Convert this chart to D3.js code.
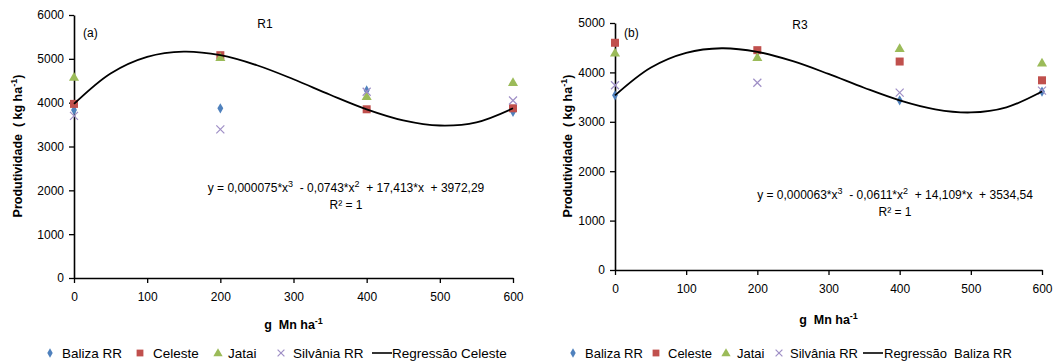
<!DOCTYPE html>
<html><head><meta charset="utf-8">
<script src="https://cdn.jsdelivr.net/npm/d3@7"></script>
<style>
body{margin:0;background:#fff;}
text{font-family:"Liberation Sans",Arial,sans-serif;fill:#000;white-space:pre;}
</style></head><body>
<svg id="c" width="1061" height="362"></svg>
<script>
const doses = [0, 200, 400, 600];
const seriesNames = ["Baliza RR", "Celeste", "Jatai", "Silvânia RR"];
// R1 (a)
const r1Baliza = [3830, 3870, 4280, 3790];
const r1Celeste = [3972, 5083, 3849, 3872];
const r1Jatai = [4580, 5030, 4140, 4460];
const r1Silvania = [3700, 3390, 4250, 4050];
// R3 (b)
const r3Baliza = [3535, 4416, 3434, 3612];
const r3Celeste = [4600, 4450, 4220, 3840];
const r3Jatai = [4390, 4300, 4480, 4190];
const r3Silvania = [3740, 3790, 3590, 3630];
// regression curves read along x = 0..600 step 50
const curveX = [0, 50, 100, 150, 200, 250, 300, 350, 400, 450, 500, 550, 600];
const r1Curve = [3972, 4667, 5046, 5166, 5083, 4854, 4534, 4181, 3849, 3597, 3479, 3552, 3872];
const r3Curve = [3535, 4095, 4397, 4489, 4416, 4227, 3969, 3689, 3434, 3252, 3189, 3293, 3612];
const xTicks = [0, 100, 200, 300, 400, 500, 600];
const r1YTicks = [0, 1000, 2000, 3000, 4000, 5000, 6000];
const r3YTicks = [0, 1000, 2000, 3000, 4000, 5000];

const colors = ["#4f81bd", "#c0504d", "#9bbb59", "#9f8fc6"];
const svg = d3.select("#c");

function marker(g, type, x, y, color, scale) {
  const s = scale || 1;
  if (type === 0) {
    g.append("path").attr("d", d3.symbol(d3.symbolDiamond, 30 * s)()).attr("transform", `translate(${x},${y})`).attr("fill", color);
  } else if (type === 1) {
    const h = 4 * s;
    g.append("rect").attr("x", x - h).attr("y", y - h).attr("width", 2 * h).attr("height", 2 * h).attr("fill", color);
  } else if (type === 2) {
    g.append("path").attr("d", d3.symbol(d3.symbolTriangle, 44 * s)()).attr("transform", `translate(${x},${y + 0.5})`).attr("fill", color);
  } else {
    const h = 4 * s;
    g.append("path").attr("d", `M${x - h},${y - h}L${x + h},${y + h}M${x - h},${y + h}L${x + h},${y - h}`).attr("stroke", color).attr("stroke-width", 1.2).attr("fill", "none");
  }
}

function panel(cfg) {
  const g = svg.append("g");
  const x = d3.scaleLinear().domain([0, 600]).range([cfg.x0, cfg.x1]);
  const y = d3.scaleLinear().domain([0, cfg.ymax]).range([cfg.y0, cfg.y1]);
  const ya = g.append("g").attr("transform", `translate(${cfg.x0},0)`)
    .call(d3.axisLeft(y).tickValues(cfg.yTicks).tickSize(5).tickSizeOuter(0).tickPadding(5).tickFormat(d3.format("d")));
  const xa = g.append("g").attr("transform", `translate(0,${cfg.y0})`)
    .call(d3.axisBottom(x).tickValues(xTicks).tickSize(5).tickSizeOuter(0).tickPadding(9).tickFormat(d3.format("d")));
  [ya, xa].forEach(a => {
    a.select(".domain").attr("stroke", "#000").attr("stroke-width", 1.6);
    a.selectAll(".tick line").attr("stroke", "#000").attr("stroke-width", 1.3);
    a.selectAll(".tick text").style("font-family", '"Liberation Sans",Arial,sans-serif').style("font-size", "12px").attr("fill", "#000");
  });
  cfg.series.forEach((vals, si) => {
    vals.forEach((v, i) => marker(g, si, x(doses[i]), y(v), colors[si]));
  });
  const line = d3.line().x((d, i) => x(curveX[i])).y(d => y(d)).curve(d3.curveCatmullRom);
  g.append("path").attr("d", line(cfg.curve)).attr("fill", "none").attr("stroke", "#000").attr("stroke-width", 1.8);
  g.append("text").attr("x", cfg.titleX).attr("y", cfg.titleY).attr("text-anchor", "middle").style("font-size", "12px").text(cfg.title);
  g.append("text").attr("x", cfg.x0 + 9).attr("y", cfg.letterY).style("font-size", "12px").text(cfg.letter);
  const eq = g.append("text").attr("x", cfg.eqX).attr("y", cfg.eqY).attr("text-anchor", "middle").style("font-size", "12px");
  const parts = cfg.eq;
  eq.append("tspan").text(parts[0]);
  eq.append("tspan").attr("dy", -5).style("font-size", "9px").text("3");
  eq.append("tspan").attr("dy", 5).text(parts[1]);
  eq.append("tspan").attr("dy", -5).style("font-size", "9px").text("2");
  eq.append("tspan").attr("dy", 5).text(parts[2]);
  g.append("text").attr("x", cfg.eqX).attr("y", cfg.eqY + 17).attr("text-anchor", "middle").style("font-size", "12px").text("R² = 1");
  const yt = g.append("text").attr("transform", `translate(${cfg.ylabX},${cfg.ylabY}) rotate(-90)`).attr("text-anchor", "middle")
    .style("font-size", "12.5px").style("font-weight", "bold");
  yt.append("tspan").text("Produtividade  ( kg ha");
  yt.append("tspan").attr("dy", -5).style("font-size", "9px").text("-1");
  yt.append("tspan").attr("dy", 5).text(")");
  const xt = g.append("text").attr("x", (cfg.x0 + cfg.x1) / 2).attr("y", cfg.xlabY).attr("text-anchor", "middle")
    .style("font-size", "12.5px").style("font-weight", "bold");
  xt.append("tspan").text("g  Mn ha");
  xt.append("tspan").attr("dy", -5).style("font-size", "9px").text("-1");
  const lg = g.append("g");
  const ly = 353;
  cfg.legend.forEach((it, i) => {
    if (i < 4) {
      marker(lg, i, it[0], ly, colors[i], 0.85);
      lg.append("text").attr("x", it[1]).attr("y", ly + 4.5).style("font-size", cfg.legSize).text(seriesNames[i]);
    } else {
      lg.append("line").attr("x1", it[0]).attr("x2", it[0] + 20).attr("y1", ly).attr("y2", ly).attr("stroke", "#000").attr("stroke-width", 1.6);
      lg.append("text").attr("x", it[1]).attr("y", ly + 4.5).style("font-size", cfg.legSize).text(it[2]);
    }
  });
}

panel({
  x0: 74, x1: 513, y0: 278, y1: 15, ymax: 6000, yTicks: r1YTicks,
  series: [r1Baliza, r1Celeste, r1Jatai, r1Silvania], curve: r1Curve,
  title: "R1", titleX: 265, titleY: 28, letter: "(a)", letterY: 37,
  eq: ["y = 0,000075*x", "  - 0,0743*x", "  + 17,413*x  + 3972,29"], eqX: 346, eqY: 192,
  ylabX: 22, ylabY: 146, xlabY: 329, legSize: "13.5px",
  legend: [[50, 62], [140, 153], [218, 228], [281, 293], [372, 392, "Regressão Celeste"]]
});
panel({
  x0: 615, x1: 1042, y0: 270, y1: 23, ymax: 5000, yTicks: r3YTicks,
  series: [r3Baliza, r3Celeste, r3Jatai, r3Silvania], curve: r3Curve,
  title: "R3", titleX: 800, titleY: 29, letter: "(b)", letterY: 37,
  eq: ["y = 0,000063*x", "  - 0,0611*x", "  + 14,109*x  + 3534,54"], eqX: 895, eqY: 199,
  ylabX: 572, ylabY: 146, xlabY: 324, legSize: "13px",
  legend: [[573, 585], [656, 668], [726, 737], [779, 790], [863, 884, "Regressão  Baliza RR"]]
});
</script></body></html>
